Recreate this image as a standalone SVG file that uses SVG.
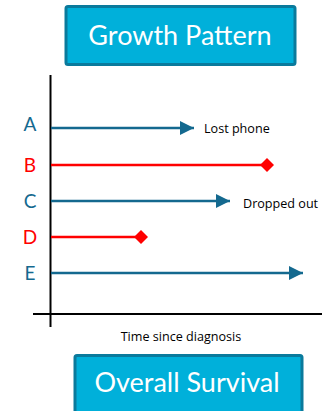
<svg xmlns="http://www.w3.org/2000/svg" width="327" height="411" viewBox="0 0 327 411">
<style>
.box{fill:#00b0da;stroke:#0a7a9c;stroke-width:3}
.title{font-family:Lato,"Open Sans",sans-serif;font-size:27px;fill:#ffffff;text-anchor:middle}
.lab{font-family:Lato,"Open Sans",sans-serif;font-size:19px;text-anchor:middle}
.note{font-family:"Open Sans",Lato,sans-serif;font-size:12.6px;fill:#000000}
.blue{fill:#14698f}
.red{fill:#ff0000}
.bl{stroke:#14698f;stroke-width:2.5;fill:none}
.rl{stroke:#ff0000;stroke-width:2.5;fill:none}
.axis{stroke:#000000;stroke-width:2;fill:none}
</style>
<defs>
<marker id="ah" viewBox="0 0 14 14" refX="14" refY="7" markerWidth="14" markerHeight="14" markerUnits="userSpaceOnUse" orient="auto">
<path d="M0,0 L14,7 L0,14 Z" fill="#14698f"/>
</marker>
<marker id="dm" viewBox="0 0 14 14" refX="7" refY="7" markerWidth="14" markerHeight="14" markerUnits="userSpaceOnUse" orient="auto">
<path d="M7,0 L14,7 L7,14 L0,7 Z" fill="#ff0000"/>
</marker>
</defs>
<g id="growth-pattern">
<rect class="box" x="66" y="6.5" width="229" height="58" rx="2"/>
<text class="title" x="180" y="45">Growth Pattern</text>
</g>
<g id="axes">
<line class="axis" x1="50.5" y1="75" x2="50.5" y2="327"/>
<line class="axis" x1="33" y1="314" x2="322" y2="314"/>
<text class="note" x="181" y="341" text-anchor="middle">Time since diagnosis</text>
</g>
<g id="row-A">
<text class="lab blue" x="30" y="131">A</text>
<text class="note" x="204" y="133">Lost phone</text>
</g>
<g id="row-B"><text class="lab red" x="30" y="172">B</text></g>
<g id="row-C">
<text class="lab blue" x="30" y="208">C</text>
<text class="note" x="243" y="208">Dropped out</text>
</g>
<g id="row-D"><text class="lab red" x="30" y="244">D</text></g>
<g id="row-E"><text class="lab blue" x="30" y="280">E</text></g>
<g id="connectors">
<line class="bl" x1="51" y1="128" x2="194" y2="128" marker-end="url(#ah)"/>
<line class="rl" x1="51" y1="165" x2="267" y2="165" marker-end="url(#dm)"/>
<line class="bl" x1="51" y1="201" x2="230" y2="201" marker-end="url(#ah)"/>
<line class="rl" x1="51" y1="237" x2="141" y2="237" marker-end="url(#dm)"/>
<line class="bl" x1="51" y1="273" x2="303" y2="273" marker-end="url(#ah)"/>
</g>
<g id="overall-survival">
<rect class="box" x="75" y="355.5" width="227" height="60" rx="2"/>
<text class="title" x="187" y="392">Overall Survival</text>
</g>
</svg>
